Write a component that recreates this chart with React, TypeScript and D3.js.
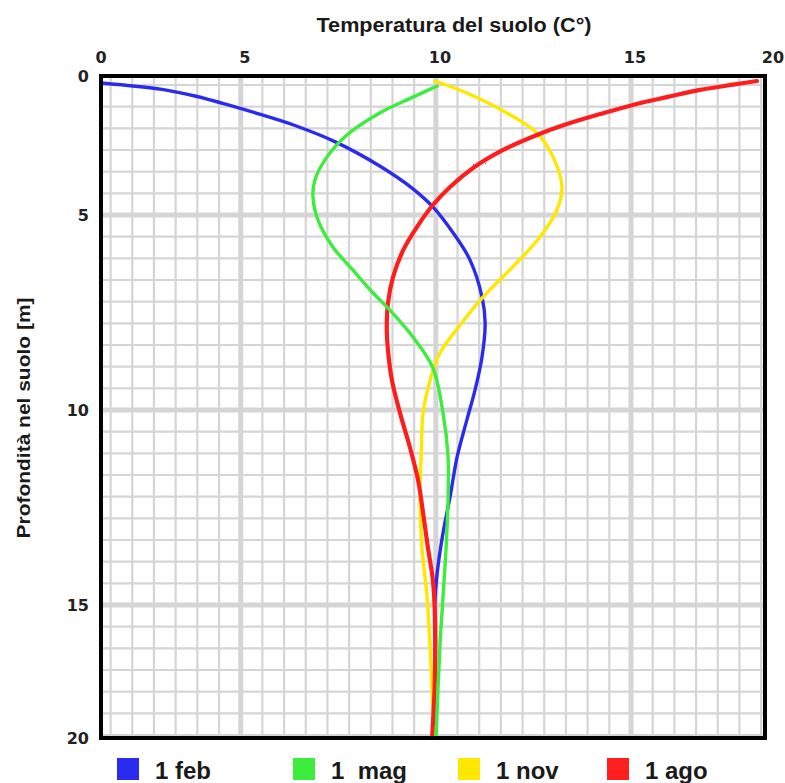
import React from 'react';
import * as d3 from 'd3';

const width = 785;
const height = 783;

// axis ticks
const tempTicks = [0, 5, 10, 15, 20]; // Temperatura (C°)
const depthTicks = [0, 5, 10, 15, 20]; // Profondità (m)

// [depth m, temperature C°]
const feb: [number, number][] = [
  [0.25, 0], [0.48, 2.18], [0.72, 3.36], [1.04, 4.55], [1.4, 5.55], [1.78, 6.39],
  [2.36, 7.41], [3.24, 8.56], [4.06, 9.41], [4.71, 9.92], [5.46, 10.44], [6.15, 10.87],
  [7.1, 11.18], [7.77, 11.26], [8.64, 11.18], [9.49, 11.0], [10.26, 10.79], [11.21, 10.54],
  [12.23, 10.36], [13.15, 10.18], [14.18, 10.03], [14.95, 9.97], [16.58, 9.97], [20, 9.95],
];
const mag: [number, number][] = [
  [0.36, 10.03], [0.76, 9.41], [1.33, 8.56], [2.12, 7.72], [2.91, 7.21], [3.74, 6.9],
  [4.35, 6.85], [5.13, 6.98], [5.82, 7.36], [6.41, 7.87], [7.0, 8.39], [7.44, 8.82],
  [8.13, 9.41], [8.92, 9.92], [10.08, 10.18], [11.21, 10.31], [12.23, 10.31], [13.51, 10.26],
  [14.79, 10.18], [16.58, 10.1], [20, 10.0],
];
const nov: [number, number][] = [
  [0.18, 9.97], [0.61, 10.79], [1.33, 11.82], [2.05, 12.59], [2.91, 13.0], [3.99, 13.23],
  [4.82, 13.1], [5.56, 12.67], [6.33, 11.97], [7.1, 11.21], [7.82, 10.62], [8.54, 10.1],
  [9.23, 9.85], [10.08, 9.67], [11.21, 9.62], [12.23, 9.59], [13.51, 9.64], [14.79, 9.77],
  [16.58, 9.85], [20, 9.95],
];
const ago: [number, number][] = [
  [0.18, 19.7], [0.31, 18.81], [0.5, 17.57], [0.76, 16.34], [1.04, 15.07], [1.37, 14.21],
  [1.73, 13.36], [2.12, 12.59], [2.66, 11.72], [3.31, 10.95], [3.99, 10.36], [4.64, 9.92],
  [5.31, 9.51], [5.9, 9.16], [6.59, 8.9], [7.26, 8.77], [7.95, 8.74], [8.46, 8.77],
  [9.23, 8.87], [10.08, 9.08], [10.95, 9.33], [11.79, 9.54], [12.64, 9.67], [13.51, 9.79],
  [14.36, 9.92], [15.3, 9.97], [17.82, 9.97], [20, 9.9],
];

const seriesNames = ['1 feb', '1  mag', '1 nov', '1 ago'];
const seriesColors = ['#2b2bf0', '#3ded3d', '#ffe800', '#ff1f1f'];
const seriesData = [feb, mag, nov, ago];

// layout
const plot = { left: 101, right: 765, top: 76, bottom: 738 };
const legendX = [117, 293, 458, 607];
const font = '"Liberation Sans", Arial, sans-serif';

export default function App() {
  // the picture squeezes the outer 5 degrees / 5 metres, so the scales are piecewise
  const x = d3.scaleLinear().domain(tempTicks).range([plot.left, 240.7, 436, 631, plot.right]);
  const y = d3.scaleLinear().domain(depthTicks).range([plot.top, 215, 410, 605, plot.bottom]);

  // grid paper: 9 cells per 5 units, aligned on the inner majors
  const step = 5 / 9;
  const gx = d3.scaleLinear().domain([5, 15]).range([x(5), x(15)]);
  const gy = d3.scaleLinear().domain([5, 15]).range([y(5), y(15)]);
  const gridVals = (g: d3.ScaleLinear<number, number>, lo: number, hi: number) => {
    const k0 = Math.ceil((g.invert(lo + 2) - 5) / step);
    const k1 = Math.floor((g.invert(hi - 2) - 5) / step);
    return d3.range(k0, k1 + 1).map((k) => ({ v: 5 + k * step, major: k % 9 === 0 }));
  };
  const vLines = gridVals(gx, plot.left, plot.right);
  const hLines = gridVals(gy, plot.top, plot.bottom);

  const line = d3
    .line<[number, number]>()
    .x((d) => x(d[1]))
    .y((d) => y(d[0]))
    .curve(d3.curveCatmullRom.alpha(0.5));

  const drawOrder = [0, 2, 3, 1];

  return (
    <svg width={width} height={height} style={{ position: 'absolute', left: 0, top: 0, background: '#fff' }}>
      <defs>
        <filter id="rough" x="-5%" y="-5%" width="110%" height="110%">
          <feTurbulence type="fractalNoise" baseFrequency="0.9" numOctaves={1} seed={3} />
          <feDisplacementMap in="SourceGraphic" scale={1.6} />
        </filter>
      </defs>

      {/* grid */}
      <g>
        {vLines.map((l, i) => (
          <line key={'v' + i} x1={gx(l.v)} x2={gx(l.v)} y1={plot.top} y2={plot.bottom}
            stroke="#d5d5d5" strokeWidth={l.major ? 5 : 2.2} />
        ))}
        {hLines.map((l, i) => (
          <line key={'h' + i} x1={plot.left} x2={plot.right} y1={gy(l.v)} y2={gy(l.v)}
            stroke="#d5d5d5" strokeWidth={l.major ? 5 : 2.2} />
        ))}
      </g>

      {/* curves */}
      {drawOrder.map((i) => (
        <path key={seriesNames[i]} d={line(seriesData[i]) || ''} fill="none"
          stroke={seriesColors[i]} strokeWidth={i === 3 ? 4.2 : 3.4} strokeLinecap="round"
          filter={i === 3 ? 'url(#rough)' : undefined} />
      ))}

      {/* frame */}
      <rect x={plot.left} y={plot.top} width={plot.right - plot.left} height={plot.bottom - plot.top}
        fill="none" stroke="#000" strokeWidth={4} />

      {/* top axis */}
      {tempTicks.map((t) => (
        <text key={'tx' + t} x={x(t) + (t === 0 ? 0 : t === 20 ? 8 : 4)} y={63} textAnchor="middle"
          fontFamily={'"DejaVu Sans", sans-serif'} fontWeight="bold" fontSize={16} fill="#222">{t}</text>
      ))}
      <text x={454} y={32} textAnchor="middle" fontFamily={font} fontWeight="bold" fontSize={20}
        textLength={275} lengthAdjust="spacingAndGlyphs" fill="#1a1a1a">Temperatura del suolo (C°)</text>

      {/* left axis */}
      {depthTicks.map((t) => (
        <text key={'ty' + t} x={89} y={y(t)} dy="0.36em" textAnchor="end"
          fontFamily={'"DejaVu Sans", sans-serif'} fontWeight="bold" fontSize={16} fill="#222">{t}</text>
      ))}
      <text transform={`translate(30,418) rotate(-90)`} textAnchor="middle" fontFamily={font}
        fontWeight="bold" fontSize={19} textLength={241} lengthAdjust="spacingAndGlyphs"
        fill="#1a1a1a">Profondità nel suolo [m]</text>

      {/* legend */}
      {seriesNames.map((n, i) => (
        <g key={'lg' + n}>
          <rect x={legendX[i]} y={758} width={22} height={22} fill={seriesColors[i]} />
          <text x={legendX[i] + 38} y={779} fontFamily={font} fontWeight="bold" fontSize={24}
            fill="#1a1a1a" style={{ whiteSpace: 'pre' }}>{n}</text>
        </g>
      ))}
    </svg>
  );
}
